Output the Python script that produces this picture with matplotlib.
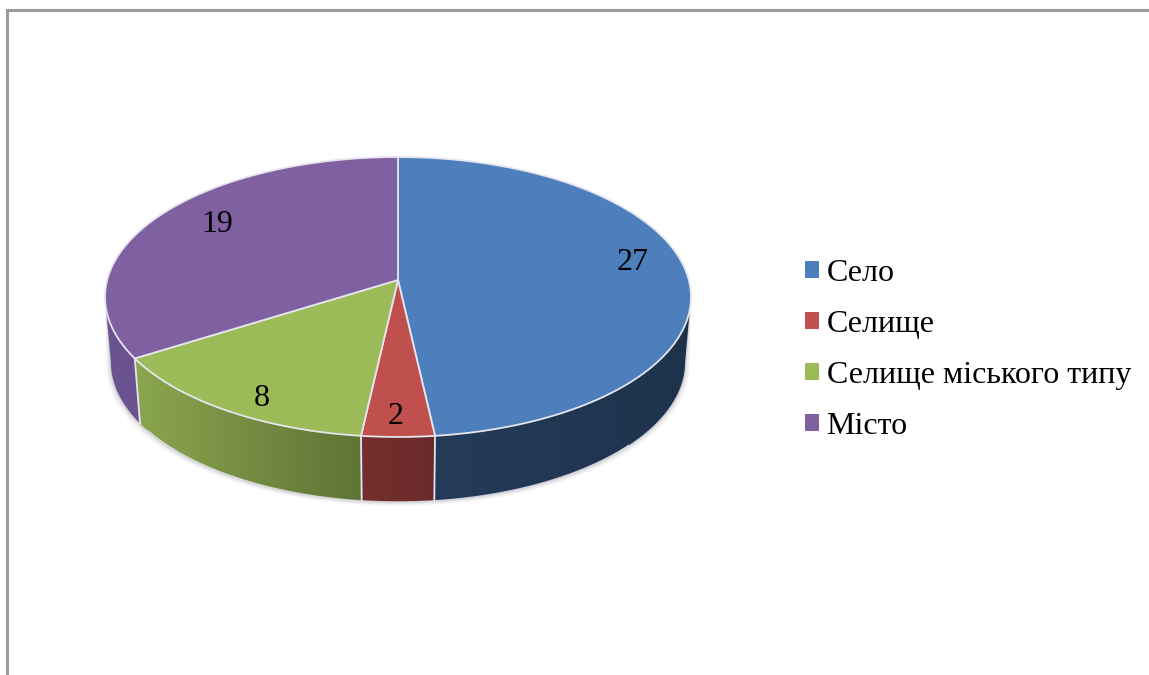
import numpy as np
import matplotlib
matplotlib.use('Agg')
import matplotlib.pyplot as plt
from matplotlib.patches import Patch, Polygon
from matplotlib.colors import LinearSegmentedColormap

categories = ['Село', 'Селище', 'Селище міського типу', 'Місто']
values = [27, 2, 8, 19]
top_colors = ['#4c7fbc', '#c0504d', '#9bbb59', '#7f60a0']
wall_left = ['#243c5a', '#73302e', '#8ba64f', '#6a5390']
wall_right = ['#1e324c', '#6a2a29', '#5d7434', '#6a5390']

# where the numbers sit, in picture pixels
label_xy = [(633, 262), (396, 417), (262, 398), (217, 225)]

# pie geometry in pixels: perspective of a flat disc seen from above
cx, cy = 398, 280
c = 0.1214
ky = 137.9
kx = 290.8
depth_cy = 345
bottom_sx = 0.98
rim = '#e6e4ee'

# walls are only seen between these two angles (clockwise from 12 o'clock)
wall_from = np.radians(97)
wall_to = np.radians(263)


def project(t, x0=cx, y0=cy, sx=1.0):
    # t is clockwise from 12 o'clock
    u = np.sin(t)
    v = np.cos(t)
    d = 1 + c * v
    return x0 + sx * kx * u / d, y0 - ky * v / d


def outer(t):
    return project(t)


def lower(t):
    return project(t, y0=depth_cy, sx=bottom_sx)


plt.rcParams['font.family'] = ['Liberation Serif', 'DejaVu Serif']

fig = plt.figure(figsize=(11.49, 6.75), dpi=100)
ax = fig.add_axes([0, 0, 1, 1])
ax.axis('off')

# frame of the chart, cut off by the picture on two sides
ax.plot([7, 7, 1149], [675, 10, 10], color='#9a9a9a', lw=2.2, solid_joinstyle='miter')

edges = np.cumsum([0] + values) / sum(values) * 2 * np.pi

# soft shadow under the disc
ts = np.linspace(wall_from, wall_to, 300)
bx, by = lower(ts)
tx, ty = outer(ts)
for grow, alpha in [(5, 0.05), (3.5, 0.07), (2, 0.10), (1, 0.14)]:
    sx_pts = cx + (bx - cx) * (1 + grow / 290)
    ax.add_patch(Polygon(np.vstack([np.c_[sx_pts, by + grow * 0.8], np.c_[tx, ty][::-1]]),
                         fc='#6a6a78', ec='none', alpha=alpha, zorder=1))

# side walls: a horizontal gradient clipped to the shape of each wall
for i in range(len(values)):
    a0 = max(edges[i], wall_from)
    a1 = min(edges[i + 1], wall_to)
    if a1 <= a0:
        continue
    t = np.linspace(a0, a1, 150)
    x, y = outer(t)
    xb, yb = lower(t)
    pts = np.vstack([np.c_[x, y], np.c_[xb, yb][::-1]])
    shape = Polygon(pts, closed=True, fc='none', ec='none', transform=ax.transData, zorder=2)
    ax.add_patch(shape)
    cmap = LinearSegmentedColormap.from_list('wall', [wall_left[i], wall_right[i]])
    img = ax.imshow(np.linspace(0, 1, 256)[None, :], cmap=cmap, aspect='auto', zorder=2,
                    extent=[pts[:, 0].min(), pts[:, 0].max(), pts[:, 1].max(), pts[:, 1].min()])
    img.set_clip_path(shape)

ax.set_xlim(0, 1149)
ax.set_ylim(675, 0)

# light line along the lower rim
low = (ts > 2.3) & (ts < 4.1)
ax.plot(bx[low], by[low], color=rim, lw=1.0, alpha=0.8, zorder=3)

# wall seams at the visible slice edges
for a in edges[1:-1]:
    if wall_from < a < wall_to:
        x0, y0 = outer(a)
        x1, y1 = lower(a)
        ax.plot([x0, x1], [y0, y1], color=rim, lw=1.3, zorder=3)

# top of each slice
for i in range(len(values)):
    t = np.linspace(edges[i], edges[i + 1], 200)
    x, y = outer(t)
    pts = np.vstack([[cx, cy], np.c_[x, y]])
    ax.add_patch(Polygon(pts, closed=True, fc=top_colors[i], ec=rim, lw=1.3,
                         joinstyle='round', zorder=4))

for val, (lx, ly) in zip(values, label_xy):
    ax.text(lx, ly, str(val), ha='center', va='center', fontsize=23, color='black', zorder=5)

handles = [Patch(fc=col, ec='none') for col in top_colors]
ax.legend(handles, categories, loc='upper left', bbox_to_anchor=(805 / 1149, 1 - 259 / 675),
          frameon=False, fontsize=23, handlelength=0.45, handleheight=0.45,
          handletextpad=0.225, labelspacing=0.69, borderpad=0, borderaxespad=0)

fig.savefig('out.png', dpi=100)
